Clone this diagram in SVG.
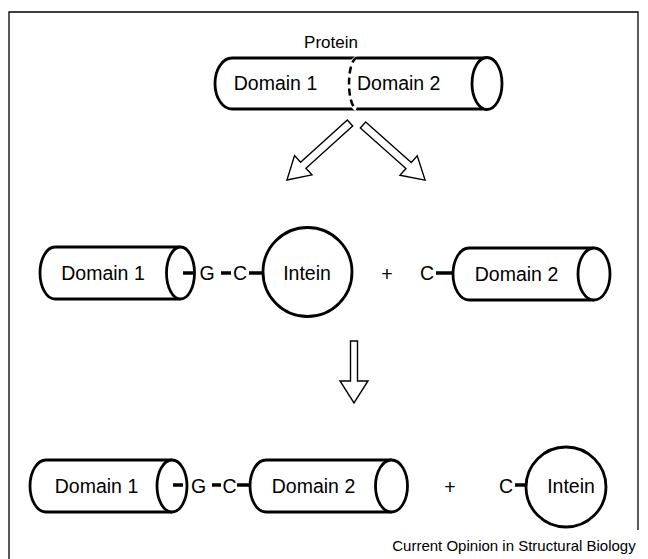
<svg xmlns="http://www.w3.org/2000/svg" width="648" height="559" viewBox="0 0 648 559">
<style>
.b{fill:#fff;stroke:#000;stroke-width:2.8}
.e{fill:#fff;stroke:#000;stroke-width:2.8}
.t{font-family:"Liberation Sans",Arial,sans-serif;font-size:19.5px;fill:#000}
.s{font-family:"Liberation Sans",Arial,sans-serif;font-size:17px;fill:#000}
.bond{stroke:#000;stroke-width:3.5}
.arr{fill:#fff;stroke:#000;stroke-width:1.4;stroke-linejoin:miter}
.frame{fill:none;stroke:#000;stroke-width:1.3}
</style>
<rect width="648" height="559" fill="#fff"/>
<path class="frame" d="M9,559 V12 H638 V530"/>

<g id="protein">
<text class="s" x="331" y="48" text-anchor="middle">Protein</text>
<path class="b" d="M487,58 H232 A17,25.5 0 0 0 232,109 H487"/>
<ellipse class="e" cx="487" cy="83.5" rx="15" ry="26"/>
<path d="M357,58 A8,25.5 0 0 0 357,109" fill="none" stroke="#fff" stroke-width="4"/>
<path d="M357,58 A8,25.5 0 0 0 357,109" fill="none" stroke="#000" stroke-width="2.5" stroke-dasharray="7,4"/>
<text class="t" x="275.5" y="90" text-anchor="middle">Domain 1</text>
<text class="t" x="357" y="90">Domain 2</text>
</g>

<g id="connectors">
<polygon class="arr" transform="translate(350,123) rotate(137.9)" points="0,-4 63,-4 63,-13 85,0 63,13 63,4 0,4"/>
<polygon class="arr" transform="translate(363,125) rotate(41.6)" points="0,-4 61,-4 61,-13 83,0 61,13 61,4 0,4"/>
<polygon class="arr" transform="translate(354,341) rotate(90)" points="0,-3.5 40,-3.5 40,-14 62,0 40,14 40,3.5 0,3.5"/>
</g>

<g id="domain1-mid">
<path class="b" d="M180,247 H55 A15,26 0 0 0 55,299 H180"/>
<ellipse class="e" cx="180.5" cy="273" rx="14" ry="26"/>
<text class="t" x="103" y="280" text-anchor="middle">Domain 1</text>
</g>
<line class="bond" x1="183" y1="273" x2="193" y2="273"/>
<text class="t" x="207" y="280" text-anchor="middle">G</text>
<line class="bond" x1="221" y1="273" x2="231" y2="273"/>
<text class="t" x="240" y="280" text-anchor="middle">C</text>
<line class="bond" x1="249" y1="273" x2="262" y2="273"/>

<g id="intein-mid">
<circle class="e" cx="307.5" cy="272" r="44.5"/>
<text class="t" x="307" y="280" text-anchor="middle">Intein</text>
</g>
<text class="t" x="387" y="281" text-anchor="middle">+</text>
<text class="t" x="427" y="280" text-anchor="middle">C</text>
<line class="bond" x1="436" y1="273" x2="455" y2="273"/>

<g id="domain2-mid">
<path class="b" d="M594,248 H469 A16,26 0 0 0 469,300 H594"/>
<ellipse class="e" cx="594" cy="274" rx="16" ry="26"/>
<text class="t" x="516.5" y="281" text-anchor="middle">Domain 2</text>
</g>

<g id="ligated">
<path class="b" d="M172,460 H46 A16,26 0 0 0 46,512 H172"/>
<ellipse class="e" cx="172" cy="486" rx="15" ry="26"/>
<text class="t" x="96.5" y="493" text-anchor="middle">Domain 1</text>
<line class="bond" x1="173" y1="485" x2="183" y2="485"/>
<text class="t" x="198.5" y="493" text-anchor="middle">G</text>
<line class="bond" x1="212" y1="485" x2="221" y2="485"/>
<text class="t" x="229.5" y="493" text-anchor="middle">C</text>
<line class="bond" x1="237" y1="485" x2="252" y2="485"/>
<path class="b" d="M391.5,460 H266 A16,26 0 0 0 266,512 H391.5"/>
<ellipse class="e" cx="391.5" cy="486" rx="16" ry="26"/>
<text class="t" x="313.5" y="493" text-anchor="middle">Domain 2</text>
</g>
<text class="t" x="450" y="494" text-anchor="middle">+</text>
<text class="t" x="506" y="493" text-anchor="middle">C</text>
<line class="bond" x1="515" y1="485" x2="530" y2="485"/>

<g id="intein-out">
<circle class="e" cx="566" cy="487" r="40"/>
<text class="t" x="571" y="493" text-anchor="middle">Intein</text>
</g>

<text x="514" y="551" text-anchor="middle" font-family="'Liberation Sans',Arial,sans-serif" font-size="15">Current Opinion in Structural Biology</text>
</svg>
